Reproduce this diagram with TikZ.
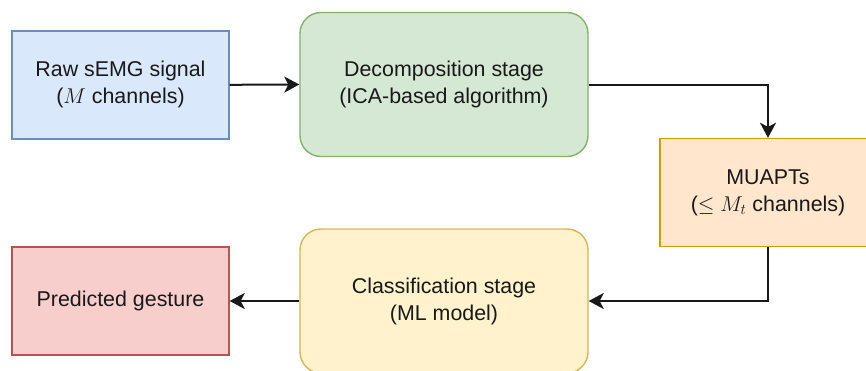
\RequirePackage{fix-cm}
\documentclass[tikz,border=0pt]{standalone}
\usepackage{fontspec}
\setmainfont{Liberation Sans}
\usetikzlibrary{arrows.meta}
\definecolor{blueF}{HTML}{DAE8FC}\definecolor{blueD}{HTML}{6C8EBF}
\definecolor{greenF}{HTML}{D5E8D4}\definecolor{greenD}{HTML}{82B366}
\definecolor{orangeF}{HTML}{FFE6CC}\definecolor{orangeD}{HTML}{D79B00}
\definecolor{yellowF}{HTML}{FFF2CC}\definecolor{yellowD}{HTML}{D6B656}
\definecolor{redF}{HTML}{F8CECC}\definecolor{redD}{HTML}{B85450}
\tikzset{
  box/.style={draw, line width=1.4pt, align=center, inner sep=0pt,
    font=\fontsize{21.4}{27}\selectfont, text=black!90},
  plainbox/.style={box, minimum width=217pt, minimum height=108pt},
  stagebox/.style={box, rounded corners=21pt, minimum width=288pt, minimum height=144pt},
  link/.style={line width=2pt, black!90,
    -{Stealth[length=15pt, width=16pt, inset=4pt]}}
}
\begin{document}
\begin{tikzpicture}[x=1pt, y=-1pt]
  \clip (0,0) rectangle (866,370);
  \fill[white] (0,0) rectangle (866,370);
  \node[plainbox, fill=blueF, draw=blueD] (raw) at (120.5,84.8)
    {Raw sEMG signal\\($M$ channels)};
  \node[stagebox, fill=greenF, draw=greenD] (dec) at (444,84.5)
    {Decomposition stage\\(ICA-based algorithm)};
  \node[plainbox, fill=orangeF, draw=orangeD, minimum width=216pt] (mua) at (768,192.5)
    {MUAPTs\\($\leq M_t$ channels)};
  \node[stagebox, fill=yellowF, draw=yellowD] (cls) at (444,301)
    {Classification stage\\(ML model)};
  \node[plainbox, fill=redF, draw=redD] (pred) at (120.5,301)
    {Predicted gesture};
  \draw[link] (raw.east) -- (dec.west);
  \draw[link] (dec.east) -| (mua.north);
  \draw[link] (mua.south) |- (cls.east);
  \draw[link] (cls.west) -- (pred.east);
\end{tikzpicture}
\end{document}
